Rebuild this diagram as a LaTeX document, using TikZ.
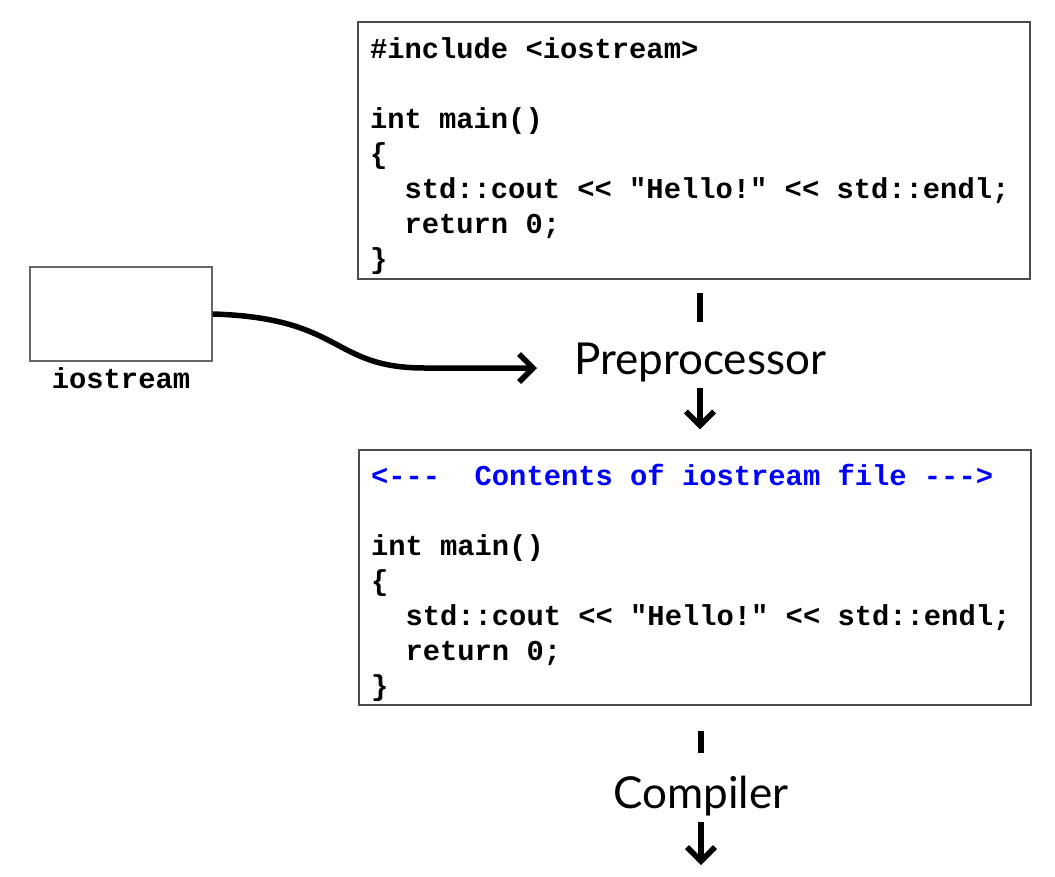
\documentclass[tikz,border=0pt]{standalone}
\usepackage{fontspec}
\setmonofont{Liberation Mono}
\newfontfamily\stagefont{Lato}
\usetikzlibrary{positioning, arrows.meta}
\tikzset{
    code box/.style={
        draw=black!70,
        line width=1.3pt,
        inner xsep=12pt,
        inner ysep=3pt,
        text width=648pt,
        align=left,
        font=\ttfamily\bfseries\fontsize{28.8}{35}\selectfont
    },
    file box/.style={
        draw=black!60,
        line width=1.3pt,
        minimum width=182pt,
        minimum height=94pt
    },
    stage/.style={
        inner sep=0pt,
        text height=32pt,
        text depth=10pt,
        font=\stagefont\fontsize{44}{44}\selectfont
    },
    flow/.style={
        line width=5.5pt,
        -{Straight Barb[length=14pt,width=28pt]}
    },
    bar/.style={
        line width=5.5pt
    }
}
\newcommand{\spc}{\char32\relax}
\newcommand{\ind}{\spc\spc}
\newcommand{\topstrut}{\rule{0pt}{32pt}}

\begin{document}
\begin{tikzpicture}[x=1pt, y=-1pt]
            % Help lines :
            % \draw [help lines, step=50] (0,0) grid (1055,876);
            \useasboundingbox (0,0) rectangle (1055,876);

            % Boxes
            \node (source) [
                code box,
                minimum height=257pt,
            ] at (694,150.5) {\topstrut\#include\spc<iostream>\\[35pt]
                int\spc main()\\
                \{\\
                \ind std::cout\spc<<\spc"Hello!"\spc<<\spc std::endl;\\
                \ind return\spc 0;\\
                \}};
            \node (expanded) [
                code box,
                minimum height=255pt,
            ] at (695,577.5) {\topstrut\textcolor{blue}{<---\spc\spc Contents\spc of\spc iostream\spc file\spc--->}\\[35pt]
                int\spc main()\\
                \{\\
                \ind std::cout\spc<<\spc"Hello!"\spc<<\spc std::endl;\\
                \ind return\spc 0;\\
                \}};
            \node (iofile) [
                file box,
            ] at (121,314) {};
            \node (iolabel) [
                below=2pt of iofile,
                font=\ttfamily\bfseries\fontsize{28.8}{35}\selectfont,
            ] {iostream};

            % Stages
            \node (prep) [
                stage,
                anchor=base,
            ] at (700,374) {Preprocessor};
            \node (comp) [
                stage,
                anchor=base,
            ] at (701,808) {Compiler};
            \coordinate (tip) at (537,368);
            \coordinate (out) at (701,865);

            % Edges
            \draw [bar, shorten <=13pt, shorten >=20pt] (prep.north |- source.south) -- (prep.north);
            \draw [flow, shorten <=4pt, shorten >=20pt] (prep.south) -- (prep.south |- expanded.north);
            \draw [bar, shorten <=25pt, shorten >=23pt] (comp.north |- expanded.south) -- (comp.north);
            \draw [flow, shorten <=4pt] (comp.south) -- (out);
            \draw [flow] (iofile.east) .. controls (345,318) and (330,368) .. (425,368) -- (tip);
        \end{tikzpicture}
\end{document}
